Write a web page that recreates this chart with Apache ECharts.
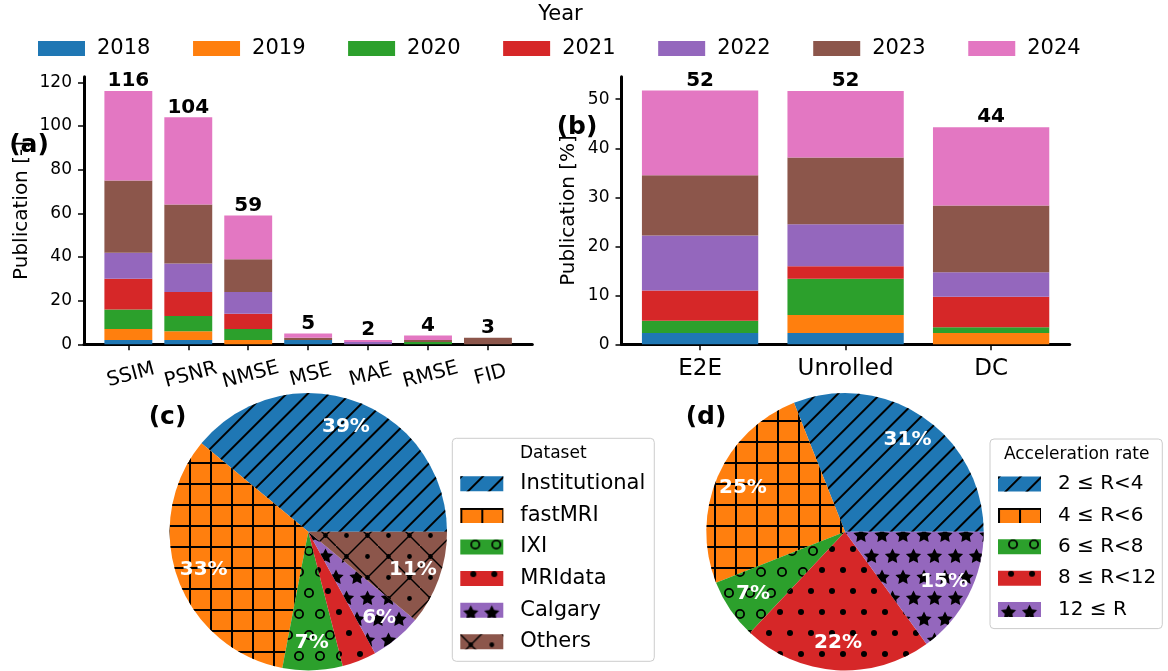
<!DOCTYPE html>
<html><head><meta charset="utf-8">
<script src="https://cdn.jsdelivr.net/npm/echarts@6/dist/echarts.min.js"></script>
<style>html,body{margin:0;padding:0;background:#fff}#c{width:1168px;height:671px}</style>
</head><body><div id="c"></div>
<script>
// ---------- data ----------
const years = ['2018','2019','2020','2021','2022','2023','2024'];
const yearColors = ['#1f77b4','#ff7f0e','#2ca02c','#d62728','#9467bd','#8c564b','#e377c2'];

const metrics = ['SSIM','PSNR','NMSE','MSE','MAE','RMSE','FID'];
const metric2018 = [2, 2, 0, 2, 0, 0, 0];
const metric2019 = [5, 4, 2, 0, 0, 0, 0];
const metric2020 = [9, 7, 5, 0, 0, 1, 0];
const metric2021 = [14, 11, 7, 0, 0, 0, 0];
const metric2022 = [12, 13, 10, 0, 1, 0, 0];
const metric2023 = [33, 27, 15, 1, 0, 1, 3];
const metric2024 = [41, 40, 20, 2, 1, 2, 0];
const metricTicks = [0, 20, 40, 60, 80, 100, 120];

const archs = ['E2E','Unrolled','DC'];
const arch2018 = [2.3, 2.3, 0];
const arch2019 = [0, 3.7, 2.3];
const arch2020 = [2.5, 7.4, 1.2];
const arch2021 = [6.2, 2.5, 6.2];
const arch2022 = [11.2, 8.6, 5.0];
const arch2023 = [12.3, 13.6, 13.6];
const arch2024 = [17.3, 13.6, 16.0];
const archTicks = [0, 10, 20, 30, 40, 50];

const datasets = ['Institutional','fastMRI','IXI','MRIdata','Calgary','Others'];
const datasetShare = [39, 33, 7, 4, 6, 11];
const rates = ['2 \u2264 R<4','4 \u2264 R<6','6 \u2264 R<8','8 \u2264 R<12','12 \u2264 R'];
const rateShare = [31, 25, 7, 22, 15];

// ---------- styles ----------
const FONT = 'DejaVu Sans';
const metricSeries = [metric2018, metric2019, metric2020, metric2021, metric2022, metric2023, metric2024];
const archSeries = [arch2018, arch2019, arch2020, arch2021, arch2022, arch2023, arch2024];
const metricTotals = metrics.map((m, i) => metricSeries.reduce((s, a) => s + a[i], 0));
const archTotals = archs.map((m, i) => archSeries.reduce((s, a) => s + a[i], 0));

function starTilePath() {
  const R = 8, P = 21;
  const pts = (cx, cy) => { const a = []; for (let k = 0; k < 10; k++) { const ang = Math.PI / 2 + k * Math.PI / 5; const r = k % 2 ? R * 0.5 : R; a.push([cx + r * Math.cos(ang), cy - r * Math.sin(ang)]); } return a; };
  const poly = arr => 'M' + arr.map(p => p[0].toFixed(2) + ',' + p[1].toFixed(2)).join('L') + 'Z';
  const A = pts(P / 2, P / 2), B = pts(0, P * 1.5), C = pts(P, P * 1.5);
  const right = [B[0], B[9], B[8], B[7], B[6], B[5]];
  const left = [C[0], C[1], C[2], C[3], C[4], C[5]];
  return 'path://' + poly(A) + poly(right) + poly(left) + 'M0,0L0.01,0L0,0.01ZM21,42L20.99,42L21,41.99Z';
}
function dot(cx, cy, r) { return 'M' + (cx - r) + ',' + cy + 'A' + r + ',' + r + ',0,1,1,' + (cx + r) + ',' + cy + 'A' + r + ',' + r + ',0,1,1,' + (cx - r) + ',' + cy + 'Z'; }
const othersPath = 'path://M0,0L1,0L42,41L42,42L41,42L0,1Z M20,0L22,0L0,22L0,20Z M42,20L42,22L22,42L20,42Z' +
  dot(10.5, 10.5, 2.4) + dot(31.5, 31.5, 2.4) + dot(31.5, 10.5, 2.4) + dot(10.5, 31.5, 2.4);
const ringPath = 'path://M10,0A10,10,0,1,1,10,20A10,10,0,1,1,10,0ZM10,3.6A6.4,6.4,0,1,0,10,16.4A6.4,6.4,0,1,0,10,3.6Z';

const K = '#000';
const decalSlash = { symbol: 'rect', symbolSize: 1, color: K, dashArrayX: [1, 0], dashArrayY: [2, 13], rotation: -Math.PI / 4 };
const decalPlus = { symbol: 'path://M0,0H21V2H0ZM0,2H2V21H0Z', symbolSize: 1, symbolKeepAspect: false, color: K, dashArrayX: [21, 0], dashArrayY: [21, 0] };
const decalRing = { symbol: ringPath, symbolSize: 1, color: K, dashArrayX: [[10, 11], [0, 10, 10, 1]], dashArrayY: [10, 11] };
const decalDot = { symbol: 'circle', symbolSize: 1, color: K, dashArrayX: [[6, 15], [0, 10, 6, 5]], dashArrayY: [6, 15] };
const decalStar = { symbol: starTilePath(), symbolSize: 1, color: K, dashArrayX: [21, 0], dashArrayY: [42, 0] };
const decalOthers = { symbol: othersPath, symbolSize: 1, color: K, dashArrayX: [42, 0], dashArrayY: [42, 0] };

const datasetColors = ['#1f77b4','#ff7f0e','#2ca02c','#d62728','#9467bd','#8c564b'];
const datasetDecals = [decalSlash, decalPlus, decalRing, decalDot, decalStar, decalOthers];
const rateColors = ['#1f77b4','#ff7f0e','#2ca02c','#d62728','#9467bd'];
const rateDecals = [decalSlash, decalPlus, decalRing, decalDot, decalStar];

const axisLineStyle = { show: true, onZero: false, lineStyle: { color: '#000', width: 3 } };
const tickStyle = { show: true, length: 6, lineStyle: { color: '#000', width: 1.5 } };

function barSeries(arrs, xIdx, totals, bw, stack) {
  return arrs.map((arr, k) => ({
    type: 'bar', name: years[k], xAxisIndex: xIdx, yAxisIndex: xIdx, stack: stack,
    barWidth: bw, itemStyle: { color: yearColors[k], borderWidth: 0 },
    encode: { x: 1, y: 0 },
    data: arr.map((v, i) => [v, i]),
    emphasis: { disabled: true },
    label: k === arrs.length - 1 ? {
      show: true, position: 'top', distance: 0, color: '#000', fontSize: 20, fontWeight: 'bold', fontFamily: FONT,
      formatter: p => String(Math.round(totals[p.dataIndex]))
    } : { show: false }
  }));
}

function pieSeries(names, vals, colors, decals, center) {
  return {
    type: 'pie', center: center, radius: 138.7, startAngle: 0, clockwise: false, silent: true,
    label: { show: false }, labelLine: { show: false }, emphasis: { disabled: true },
    data: names.map((n, i) => ({ name: n, value: vals[i], itemStyle: { color: colors[i], decal: decals[i], borderWidth: 0 } }))
  };
}
function pieLabels(names, vals, center) {
  return {
    type: 'pie', center: center, radius: 138.7 * 1.56, startAngle: 0, clockwise: false, silent: true,
    labelLine: { show: false }, emphasis: { disabled: true },
    label: { show: true, position: 'inside', formatter: '{c}%', color: '#fff', fontSize: 20, fontWeight: 'bold', fontFamily: FONT },
    itemStyle: { color: 'rgba(0,0,0,0)', borderWidth: 0 },
    data: names.map((n, i) => ({ name: n, value: vals[i] }))
  };
}

const chart = echarts.init(document.getElementById('c'), null, { renderer: 'canvas' });
chart.setOption({
  animation: false,
  backgroundColor: '#fff',
  textStyle: { fontFamily: FONT, color: '#000' },
  grid: [
    { left: 84, right: 635.7, top: 76.7, bottom: 326.7, outerBoundsMode: 'none', containLabel: false },
    { left: 621.5, right: 98.3, top: 76.7, bottom: 326.7, outerBoundsMode: 'none', containLabel: false }
  ],
  xAxis: [
    { gridIndex: 0, type: 'value', min: -0.74, max: 6.74, axisLine: axisLineStyle, splitLine: { show: false },
      axisTick: Object.assign({ customValues: metrics.map((m, i) => i) }, tickStyle),
      axisLabel: { customValues: metrics.map((m, i) => i), formatter: v => metrics[v], rotate: 15, align: 'center', verticalAlign: 'top',
        fontSize: 20, color: '#000', margin: 21, fontFamily: FONT } },
    { gridIndex: 1, type: 'value', min: -0.54, max: 2.54, axisLine: axisLineStyle, splitLine: { show: false },
      axisTick: Object.assign({ customValues: archs.map((m, i) => i) }, tickStyle),
      axisLabel: { customValues: archs.map((m, i) => i), formatter: v => archs[v], fontSize: 23, color: '#000', margin: 13, fontFamily: FONT } }
  ],
  yAxis: [
    { gridIndex: 0, type: 'value', min: 0, max: 122.6, name: 'Publication [-]', nameLocation: 'middle', nameGap: 52,
      nameTextStyle: { fontSize: 20, color: '#000', fontFamily: FONT },
      axisLine: axisLineStyle, splitLine: { show: false },
      axisTick: Object.assign({ customValues: metricTicks }, tickStyle),
      axisLabel: { customValues: metricTicks, fontSize: 17, color: '#000', margin: 12, fontFamily: FONT } },
    { gridIndex: 1, type: 'value', min: 0, max: 54.6, name: 'Publication [%]', nameLocation: 'middle', nameGap: 43,
      nameTextStyle: { fontSize: 20, color: '#000', fontFamily: FONT },
      axisLine: axisLineStyle, splitLine: { show: false },
      axisTick: Object.assign({ customValues: archTicks }, tickStyle),
      axisLabel: { customValues: archTicks, fontSize: 17, color: '#000', margin: 12, fontFamily: FONT } }
  ],
  legend: [
    { data: years, left: 38, top: 38, padding: 0, itemWidth: 47, itemHeight: 15, itemGap: 42.6, icon: 'rect', selectedMode: false,
      textStyle: { fontSize: 21, color: '#000', fontFamily: FONT, padding: [0, 0, 0, 7] } },
    { data: datasets, orient: 'vertical', left: 452.3, top: 438.3, padding: [35, 9, 9, 8], itemWidth: 43, itemHeight: 15, itemGap: 10.6,
      icon: 'rect', selectedMode: false, borderColor: '#cccccc', borderWidth: 1, borderRadius: 4, backgroundColor: 'rgba(255,255,255,0.8)',
      textStyle: { fontSize: 21, color: '#000', fontFamily: FONT, padding: [0, 0, 0, 12] } },
    { data: rates, orient: 'vertical', left: 990, top: 439, padding: [35, 6, 9, 8], itemWidth: 43, itemHeight: 15, itemGap: 11.4,
      icon: 'rect', selectedMode: false, borderColor: '#cccccc', borderWidth: 1, borderRadius: 4, backgroundColor: 'rgba(255,255,255,0.8)',
      textStyle: { fontSize: 20, color: '#000', fontFamily: FONT, padding: [0, 0, 0, 12] } }
  ],
  graphic: [
    { type: 'text', x: 560.5, y: 15, style: { text: 'Year', font: '21px "DejaVu Sans"', fill: '#000', align: 'center', verticalAlign: 'middle' } },
    { type: 'text', x: 553.3, y: 454, z: 100, style: { text: 'Dataset', font: '17px "DejaVu Sans"', fill: '#000', align: 'center', verticalAlign: 'middle' } },
    { type: 'text', x: 1076.7, y: 455, z: 100, style: { text: 'Acceleration rate', font: '17px "DejaVu Sans"', fill: '#000', align: 'center', verticalAlign: 'middle' } },
    { type: 'text', x: 29, y: 145, z: 100, style: { text: '(a)', font: 'bold 25px "DejaVu Sans"', fill: '#000', align: 'center', verticalAlign: 'middle' } },
    { type: 'text', x: 577, y: 127, z: 100, style: { text: '(b)', font: 'bold 25px "DejaVu Sans"', fill: '#000', align: 'center', verticalAlign: 'middle' } },
    { type: 'text', x: 167.5, y: 417, z: 100, style: { text: '(c)', font: 'bold 25px "DejaVu Sans"', fill: '#000', align: 'center', verticalAlign: 'middle' } },
    { type: 'text', x: 706, y: 417, z: 100, style: { text: '(d)', font: 'bold 25px "DejaVu Sans"', fill: '#000', align: 'center', verticalAlign: 'middle' } }
  ],
  series: [].concat(
    barSeries(metricSeries, 0, metricTotals, 47.9, 'metric'),
    barSeries(archSeries, 1, archTotals, 116.3, 'arch'),
    [pieSeries(datasets, datasetShare, datasetColors, datasetDecals, [308.3, 531.7]),
     pieSeries(rates, rateShare, rateColors, rateDecals, [845, 531.7]),
     pieLabels(datasets, datasetShare, [308.3, 531.7]),
     pieLabels(rates, rateShare, [845, 531.7])]
  )
});
</script></body></html>
